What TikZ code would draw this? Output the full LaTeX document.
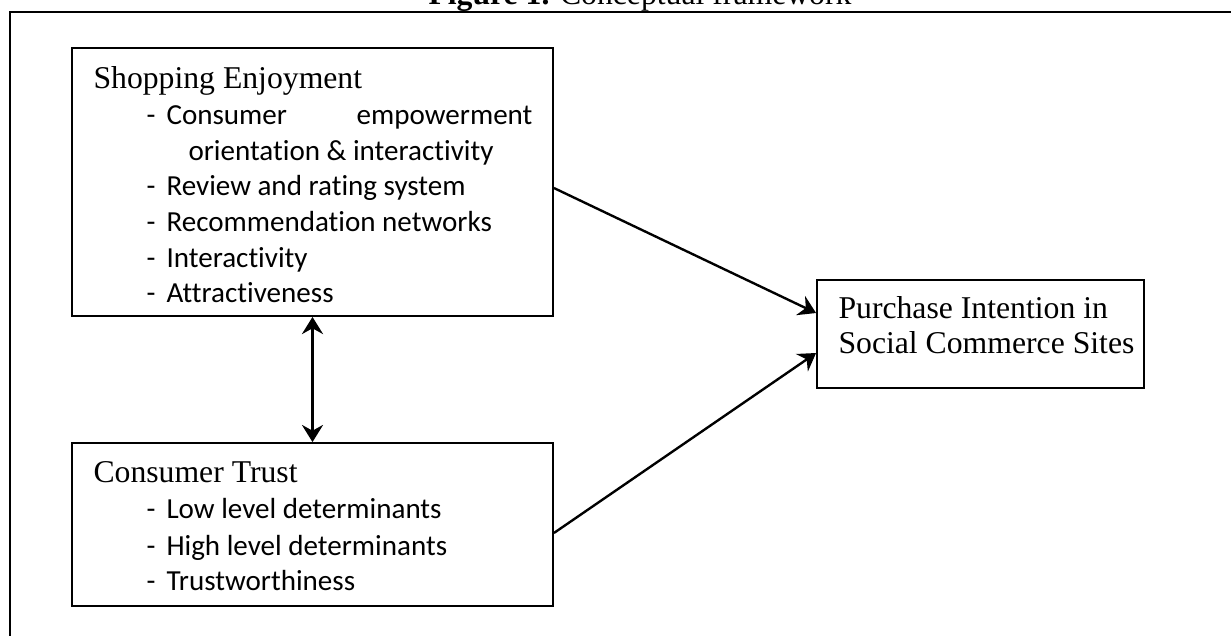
\documentclass[tikz,border=0pt]{standalone}
\usepackage{fontspec}
\setmainfont{Liberation Serif}
\newfontfamily\calfont[Ligatures=NoCommon]{Carlito}
\usetikzlibrary{arrows.meta,calc,fit}
\begin{document}
\begin{tikzpicture}[x=0.3785pt,y=-0.3785pt,
  box/.style={draw, line width=0.7pt, inner sep=0pt},
  frameline/.style={line width=0.85pt},
  arr/.style={line width=0.9pt, -{Stealth[length=6.5pt,width=8pt,inset=2.2pt]}},
  dblarr/.style={line width=0.9pt, {Stealth[length=6.5pt,width=8pt,inset=2.2pt]}-{Stealth[length=6.5pt,width=8pt,inset=2.2pt]}},
  head/.style={anchor=base west, inner sep=0pt, font=\fontsize{12pt}{14pt}\selectfont},
  item/.style={anchor=base west, inner sep=0pt, font=\calfont\fontsize{11pt}{13.4pt}\selectfont},
  ttl/.style={anchor=base, inner sep=0pt, font=\fontsize{12pt}{14pt}\selectfont}]
\useasboundingbox (0,0) rectangle (1231,635);
% title (cut off at the top)
\node[ttl] (title) at (640,4) {\textbf{Figure 1.} Conceptual framework};
% outer frame
\coordinate (fa) at (10,650);
\coordinate (fb) at (10,12);
\coordinate (fc) at (1250,12);
\draw[frameline] (fa) -- (fb) -- (fc);
% boxes
\node[box, fit={(72,48) (553,316)}] (se) {};
\node[box, fit={(72,443) (553,606)}] (ct) {};
\node[box, fit={(817,280) (1144,388)}] (pi) {};
% Shopping Enjoyment text
\node[head] (seh) at (93,88) {Shopping Enjoyment};
\node[item] (se1) at (146,124) {\makebox[7.57pt][l]{-}\makebox[138.5pt][l]{Consumer\hfill empowerment}};
\node[item] (se2) at (188,160) {orientation \& interactivity};
\node[item] (se3) at (146,195) {\makebox[7.57pt][l]{-}Review and rating system};
\node[item] (se4) at (146,231) {\makebox[7.57pt][l]{-}Recommendation networks};
\node[item] (se5) at (146,267) {\makebox[7.57pt][l]{-}Interactivity};
\node[item] (se6) at (146,302) {\makebox[7.57pt][l]{-}Attractiveness};
% Consumer Trust text
\node[head] (cth) at (93,482) {Consumer Trust};
\node[item] (ct1) at (146,518) {\makebox[7.57pt][l]{-}Low level determinants};
\node[item] (ct2) at (146,555) {\makebox[7.57pt][l]{-}High level determinants};
\node[item] (ct3) at (146,590) {\makebox[7.57pt][l]{-}Trustworthiness};
% Purchase intention text
\node[head] (pi1) at (838,318) {Purchase Intention in};
\node[head] (pi2) at (838,353) {Social Commerce Sites};
% connectors
\draw[dblarr] (se.south) -- (ct.north);
\draw[arr] ($(se.east)+(0,6)$) -- ($(pi.west)+(0,-21)$);
\draw[arr] ($(ct.east)+(0,8.5)$) -- ($(pi.west)+(0,19)$);
\end{tikzpicture}
\end{document}
